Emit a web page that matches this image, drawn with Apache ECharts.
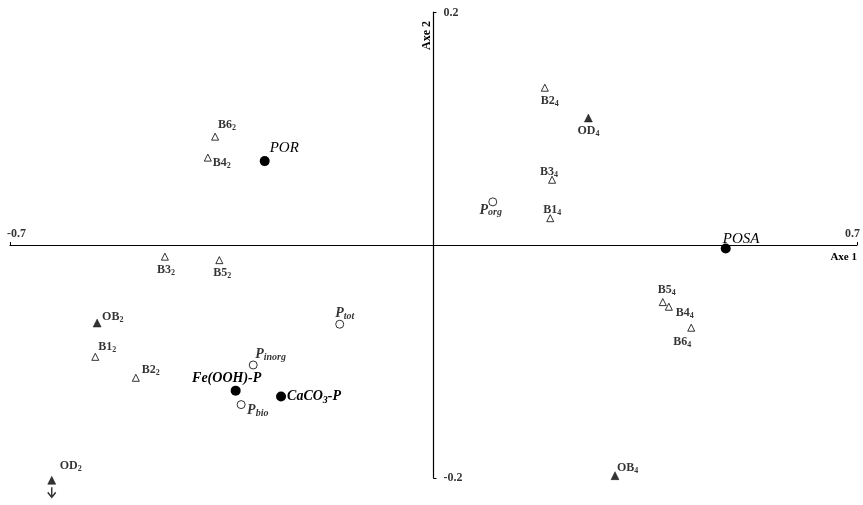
<!DOCTYPE html>
<html><head><meta charset="utf-8">
<script src="https://cdn.jsdelivr.net/npm/echarts@6/dist/echarts.min.js"></script>
<style>html,body{margin:0;padding:0;background:#fff}#c{width:863px;height:505px}</style>
</head><body><div id="c"></div>
<script>
// ---- data (Axe 1, Axe 2 scores) ----
// samples, open triangles
const sampleNames = ['B6{2}','B4{2}','B3{2}','B5{2}','B1{2}','B2{2}','B2{4}','B3{4}','B1{4}','B5{4}','B4{4}','B6{4}'];
const sampleAxe1  = [-0.361,-0.373,-0.444,-0.354,-0.559,-0.492, 0.184, 0.196, 0.193, 0.379, 0.389, 0.426];
const sampleAxe2  = [ 0.093, 0.075,-0.010,-0.013,-0.096,-0.114, 0.135, 0.056, 0.023,-0.049,-0.053,-0.071];
// O sites, filled triangles
const siteNames = ['OB{2}','OD{2}','OD{4}','OB{4}'];
const siteAxe1  = [-0.556,-0.631, 0.256, 0.300];
const siteAxe2  = [-0.067,-0.202, 0.109,-0.198];
// variables, filled circles
const varNames = ['POR','Fe(OOH)-P','CaCO{3}-P','POSA'];
const varAxe1  = [-0.279,-0.327,-0.252, 0.483];
const varAxe2  = [ 0.072,-0.125,-0.130,-0.003];
// phosphorus fractions, open circles
const pNames = ['P{inorg}','P{bio}','P{tot}','P{org}'];
const pAxe1  = [-0.298,-0.318,-0.155, 0.098];
const pAxe2  = [-0.103,-0.137,-0.068, 0.037];
// point that continues off-chart (arrow)
const offChartName = 'OD{2}';
// axis ranges / tick labels
const axe1Range = [-0.7, 0.7];
const axe2Range = [-0.2, 0.2];
const axe1TickLabels = ['-0.7', '0.7'];
const axe2TickLabels = ['-0.2', '0.2'];

// ---- label placement (style) ----
const labelPlace = {
  'B6{2}':[3,-12,'left'], 'B4{2}':[5,5,'left'], 'B3{2}':[1,13,'center'], 'B5{2}':[3,13,'center'],
  'B1{2}':[3,-10,'left'], 'B2{2}':[6,-8,'left'], 'B2{4}':[5,13,'center'], 'B3{4}':[-3,-8,'center'],
  'B1{4}':[2,-8,'center'], 'B5{4}':[4,-12,'center'], 'B4{4}':[7,6,'left'], 'B6{4}':[-9,14,'center'],
  'OB{2}':[5,-6,'left'], 'OD{2}':[8,-14,'left'], 'OD{4}':[0,13,'center'], 'OB{4}':[2,-8,'left'],
  'POR':[5,-13,'left'], 'Fe(OOH)-P':[-9,-12,'center'], 'CaCO{3}-P':[6,0,'left'], 'POSA':[-3,-9,'left'],
  'P{inorg}':[2,-11,'left'], 'P{bio}':[6,6,'left'], 'P{tot}':[5,-11,'center'], 'P{org}':[-2,8,'center']
};
const boldNames = {'Fe(OOH)-P':true, 'CaCO{3}-P':true};

function rich(name){
  const parts = name.split(/\{([^}]*)\}/);
  let out = '';
  const big = boldNames[name] ? 'b' : 'm';
  const sub = boldNames[name] ? 'sb' : 's';
  parts.forEach((p,i)=>{ if(p!=='') out += '{' + (i%2 ? sub : big) + '|' + p + '}'; });
  return out;
}
function pts(names, xs, ys){
  return names.map((n,i)=>{
    const pl = labelPlace[n];
    return {name:n, value:[xs[i], ys[i]],
      label:{offset:[pl[0],pl[1]], align:pl[2]}};
  });
}
const serif = '"Liberation Serif","DejaVu Serif",serif';
const richSample = {
  m:{fontFamily:serif, fontWeight:'bold', fontSize:12, color:'#000', lineHeight:14},
  s:{fontFamily:serif, fontWeight:'bold', fontSize:8, color:'#000', verticalAlign:'bottom', lineHeight:12}
};
const richVar = {
  m:{fontFamily:serif, fontStyle:'italic', fontSize:15, color:'#000', lineHeight:17},
  b:{fontFamily:serif, fontStyle:'italic', fontWeight:'bold', fontSize:14, color:'#000', lineHeight:17},
  s:{fontFamily:serif, fontStyle:'italic', fontSize:10, color:'#000', verticalAlign:'bottom', lineHeight:14},
  sb:{fontFamily:serif, fontStyle:'italic', fontWeight:'bold', fontSize:10, color:'#000', verticalAlign:'bottom', lineHeight:14}
};
const richP = {
  m:{fontFamily:serif, fontStyle:'italic', fontWeight:'bold', fontSize:14, color:'#000', lineHeight:16},
  s:{fontFamily:serif, fontStyle:'italic', fontWeight:'bold', fontSize:10, color:'#000', verticalAlign:'bottom', lineHeight:13}
};
function lab(r){
  return {show:true, position:'inside', formatter:p=>rich(p.name), rich:r, verticalAlign:'middle'};
}
const offIdx = siteNames.indexOf(offChartName);
const tickTxt = {fontFamily:serif, fontWeight:'bold', fontSize:12, color:'#000'};
const tickData = [
  {value:[axe1Range[0],0], name:axe1TickLabels[0], label:Object.assign({align:'left', verticalAlign:'bottom', offset:[-3,-5]}, tickTxt)},
  {value:[axe1Range[1],0], name:axe1TickLabels[1], label:Object.assign({align:'right', verticalAlign:'bottom', offset:[3,-5]}, tickTxt)},
  {value:[0,axe2Range[0]], name:axe2TickLabels[0], label:Object.assign({align:'left', verticalAlign:'middle', offset:[10,0]}, tickTxt)},
  {value:[0,axe2Range[1]], name:axe2TickLabels[1], label:Object.assign({align:'left', verticalAlign:'middle', offset:[10,1]}, tickTxt)}
];

const chart = echarts.init(document.getElementById('c'));
chart.setOption({
  backgroundColor:'#fff',
  animation:false,
  grid:{left:10, right:6, top:12, bottom:27},
  xAxis:{type:'value', min:axe1Range[0], max:axe1Range[1], interval:0.7,
    name:'Axe 1', nameLocation:'end', nameGap:0,
    nameTextStyle:{fontFamily:serif, fontWeight:'bold', fontSize:11, color:'#000', align:'right', verticalAlign:'top', padding:[7,0,0,0]},
    axisLine:{onZero:true, lineStyle:{color:'#000', width:1.2}},
    axisTick:{show:true, inside:true, length:3, lineStyle:{color:'#000'}},
    axisLabel:{show:false},
    splitLine:{show:false}},
  yAxis:{type:'value', min:axe2Range[0], max:axe2Range[1], interval:0.2,
    name:'Axe 2', nameLocation:'end', nameRotate:90, nameGap:-38,
    nameTextStyle:{fontFamily:serif, fontWeight:'bold', fontSize:12, color:'#000', align:'left', verticalAlign:'bottom', padding:[0,0,1,0]},
    axisLine:{onZero:true, lineStyle:{color:'#000', width:1.2}},
    axisTick:{show:true, inside:true, length:3, lineStyle:{color:'#000'}},
    axisLabel:{show:false},
    splitLine:{show:false}},
  series:[
    {type:'scatter', clip:false, symbol:'triangle', symbolSize:7,
     itemStyle:{color:'#fff', borderColor:'#000', borderWidth:1},
     label:lab(richSample), data:pts(sampleNames, sampleAxe1, sampleAxe2)},
    {type:'scatter', clip:false, symbol:'triangle', symbolSize:8,
     itemStyle:{color:'#000', borderColor:'#000', borderWidth:0.5},
     label:lab(richSample), data:pts(siteNames, siteAxe1, siteAxe2)},
    {type:'scatter', clip:false, symbol:'circle', symbolSize:10,
     itemStyle:{color:'#000', opacity:1},
     label:lab(richVar), data:pts(varNames, varAxe1, varAxe2)},
    {type:'scatter', clip:false, symbol:'circle', symbolSize:8,
     itemStyle:{color:'#fff', borderColor:'#000', borderWidth:1},
     label:lab(richP), data:pts(pNames, pAxe1, pAxe2)},
    {type:'scatter', clip:false, symbol:'path://M4,0 L4,10 M0,5 L4,10 L8,5', symbolSize:[8,10], symbolOffset:[0,12],
     itemStyle:{color:'transparent', borderColor:'#000', borderWidth:1.6},
     data:[[siteAxe1[offIdx], siteAxe2[offIdx]]]},
    {type:'scatter', clip:false, symbolSize:0, silent:true,
     label:{show:true, position:'inside', formatter:p=>p.name},
     data:tickData}
  ]
});
</script></body></html>
